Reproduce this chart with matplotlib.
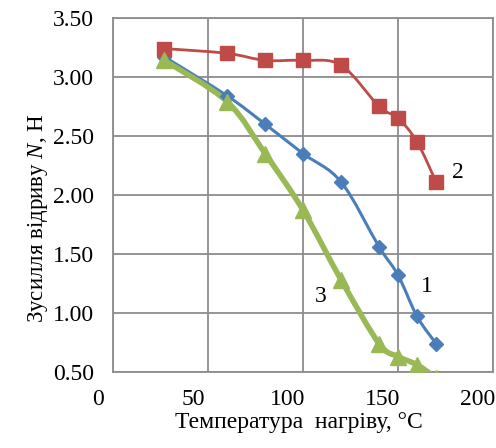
import matplotlib
matplotlib.use('Agg')
import matplotlib.pyplot as plt
import matplotlib.transforms as mtransforms
from matplotlib.path import Path
from matplotlib.patches import PathPatch

plt.rcParams['font.family'] = ['Liberation Serif', 'DejaVu Serif']
plt.rcParams['mathtext.fontset'] = 'custom'
plt.rcParams['mathtext.rm'] = 'Liberation Serif'
plt.rcParams['mathtext.it'] = 'Liberation Serif:italic'

# дані
temp = [27, 60, 80, 100, 120, 140, 150, 160, 170]
sila_1 = [3.17, 2.84, 2.60, 2.35, 2.11, 1.56, 1.32, 0.97, 0.74]
sila_2 = [3.24, 3.20, 3.14, 3.14, 3.10, 2.75, 2.65, 2.45, 2.11]
sila_3 = [3.14, 2.79, 2.35, 1.87, 1.28, 0.74, 0.63, 0.56, 0.45]

x_ticks = [0, 50, 100, 150, 200]
y_ticks = [0.5, 1.0, 1.5, 2.0, 2.5, 3.0, 3.5]

c_blue = '#4a7ebb'
c_red = '#be4b48'
c_green = '#98b954'


def smooth_path(xs, ys):
    # згладжена лінія як у Excel (Catmull-Rom -> Bezier)
    pts = list(zip(xs, ys))
    n = len(pts)
    verts = [pts[0]]
    codes = [Path.MOVETO]
    for i in range(n - 1):
        p0 = pts[i - 1] if i > 0 else pts[i]
        p1 = pts[i]
        p2 = pts[i + 1]
        p3 = pts[i + 2] if i + 2 < n else pts[i + 1]
        c1 = (p1[0] + (p2[0] - p0[0]) / 6, p1[1] + (p2[1] - p0[1]) / 6)
        c2 = (p2[0] - (p3[0] - p1[0]) / 6, p2[1] - (p3[1] - p1[1]) / 6)
        verts += [c1, c2, p2]
        codes += [Path.CURVE4] * 3
    return Path(verts, codes)


fig = plt.figure(figsize=(4.96, 4.48), dpi=100)
ax = fig.add_axes([0.228, 0.170, 0.766, 0.790])

series = [
    (sila_1, c_blue, 'D', 7, 2.2),
    (sila_2, c_red, 's', 9.5, 2.0),
    (sila_3, c_green, '^', 11, 4.0),
]
for vals, col, mk, ms, lw in series:
    ax.add_patch(PathPatch(smooth_path(temp, vals), facecolor='none',
                           edgecolor=col, lw=lw, zorder=3))
    ax.plot(temp, vals, linestyle='none', marker=mk, ms=ms, color=col,
            markeredgecolor=col, zorder=4)

ax.set_xlim(0, 200)
ax.set_ylim(0.5, 3.5)
ax.set_xticks(x_ticks)
ax.set_yticks(y_ticks)
ax.set_yticklabels([f'{v:.2f}' for v in y_ticks])
ax.grid(True, color='#8c8c8c', lw=1.3)
ax.set_axisbelow(True)
for sp in ax.spines.values():
    sp.set_color('#8c8c8c')
    sp.set_linewidth(1.3)
ax.tick_params(length=0, labelsize=17)
ax.tick_params(axis='y', pad=14)
ax.tick_params(axis='x', pad=12)

# підписи осі x зсунуті ліворуч, як на оригіналі
shift = mtransforms.ScaledTranslation(-0.15, 0, fig.dpi_scale_trans)
for lab in ax.get_xticklabels():
    lab.set_transform(lab.get_transform() + shift)

ax.set_xlabel('Температура  нагріву, °С', fontsize=17)
ax.xaxis.set_label_coords(0.49, -0.144)
ax.xaxis.label.set_verticalalignment('center')
ax.set_ylabel('Зусилля відриву $N$, Н', fontsize=16.5)
ax.yaxis.set_label_coords(-0.197, 0.435)
ax.yaxis.label.set_verticalalignment('center')

box = dict(facecolor='white', edgecolor='none', pad=1.5)
ax.text(165.3, 1.22, '1', fontsize=17, ha='center', va='center', bbox=box, zorder=5)
ax.text(181.6, 2.19, '2', fontsize=17, ha='center', va='center', bbox=box, zorder=5)
ax.text(109.5, 1.14, '3', fontsize=17, ha='center', va='center', bbox=box, zorder=5)

fig.savefig('out.png', dpi=100)
